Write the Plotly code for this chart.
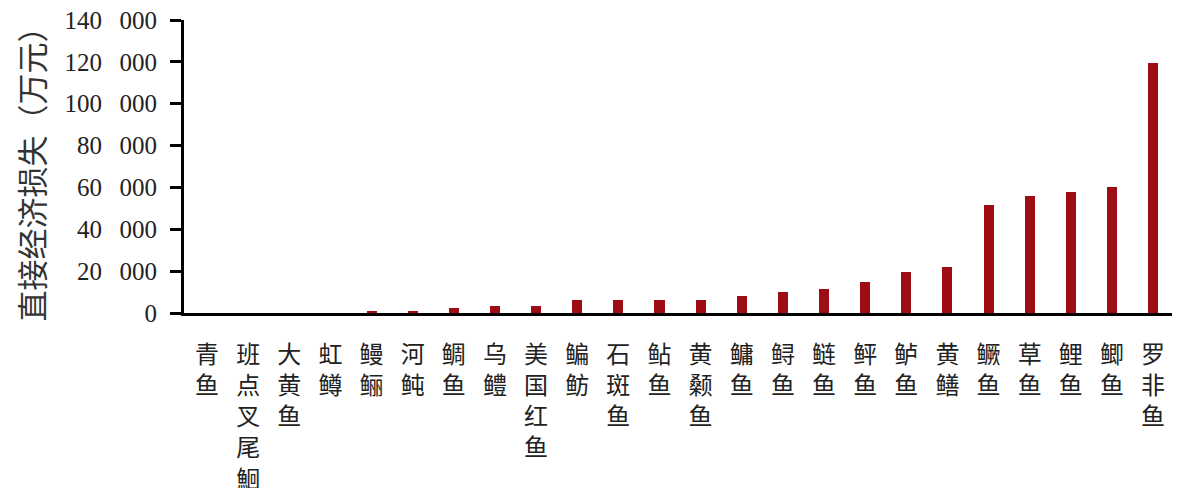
import plotly.graph_objects as go

species = ["青鱼", "班点叉尾鮰", "大黄鱼", "虹鳟", "鳗鲡", "河鲀", "鲷鱼", "乌鳢", "美国红鱼",
           "鳊鲂", "石斑鱼", "鲇鱼", "黄颡鱼", "鳙鱼", "鲟鱼", "鲢鱼", "鲆鱼", "鲈鱼", "黄鳝",
           "鳜鱼", "草鱼", "鲤鱼", "鲫鱼", "罗非鱼"]
losses = [0, 0, 0, 0, 700, 700, 2600, 3400, 3400,
          6000, 6000, 6000, 6000, 8000, 10200, 11600, 14800, 19600, 22100,
          51800, 55700, 57700, 60200, 119600]
ytick_values = [0, 20000, 40000, 60000, 80000, 100000, 120000, 140000]
ytick_labels = ["0", "20 000", "40 000", "60 000", "80 000", "100 000", "120 000", "140 000"]
y_title = "直接经济损失（万元）"

SP = "\u2002\u2009"
ytext = [t.replace(" ", SP) for t in ytick_labels]
xtext = ["<br>".join(list(s)) for s in species]

fig = go.Figure(go.Bar(
    x=list(range(len(species))), y=losses,
    marker=dict(color="#9E0C16", line=dict(width=0)),
    width=0.245,
))

# page body has an 8px margin: figure is shifted by 8px right and down
fig.update_layout(
    width=1172, height=480,
    margin=dict(l=176, r=8, t=12, b=175),
    plot_bgcolor="white", paper_bgcolor="white",
    showlegend=False,
    bargap=0,
)
fig.update_xaxes(
    range=[-0.56, 23.46], automargin=False,
    tickmode="array", tickvals=list(range(len(species))), ticktext=xtext,
    showline=True, linecolor="black", linewidth=3,
    ticks="", showgrid=False, zeroline=False,
    tickfont=dict(family="Noto Sans CJK SC", size=24, color="#222"),
    ticklabelstandoff=18, ticklabeloverflow="allow",
)
fig.update_yaxes(
    range=[0, 140000], automargin=False,
    tickmode="array", tickvals=ytick_values, ticktext=ytext,
    showline=True, linecolor="black", linewidth=3,
    ticks="outside", ticklen=11, tickwidth=3, tickcolor="black",
    ticklabelstandoff=8, ticklabeloverflow="allow",
    showgrid=False, zeroline=False,
    tickfont=dict(family="Liberation Serif", size=25, color="#222"),
    title=dict(text=y_title, font=dict(family="Noto Sans CJK SC", size=31, color="#333"), standoff=18),
)
fig.write_html("out.html")
